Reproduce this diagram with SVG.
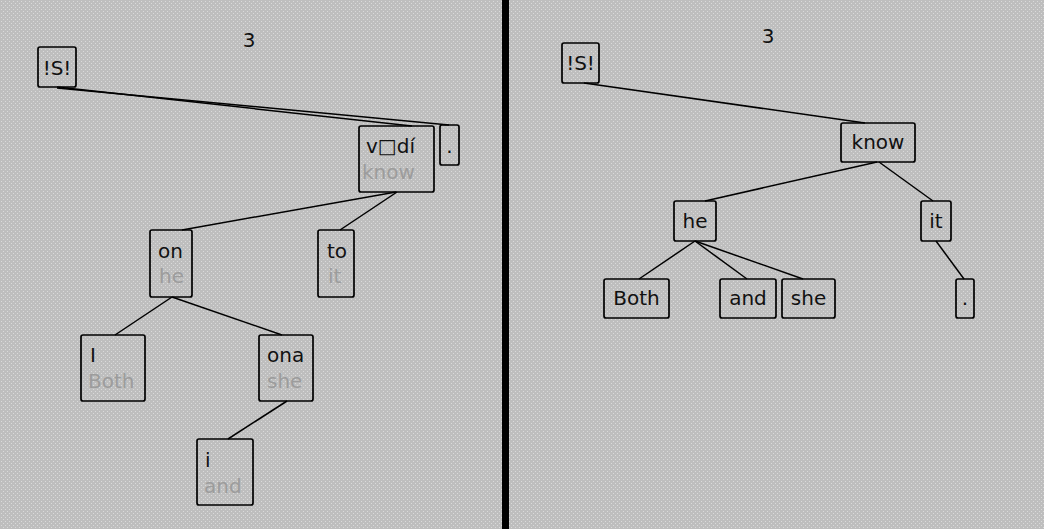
<svg xmlns="http://www.w3.org/2000/svg" width="1044" height="529" viewBox="0 0 1044 529">
  <defs>
    <pattern id="dither" width="4" height="4" patternUnits="userSpaceOnUse">
      <rect width="4" height="4" fill="#bebebe"/>
      <rect x="1" y="1" width="1" height="1" fill="#dadada"/>
      <rect x="3" y="3" width="1" height="1" fill="#dadada"/>
    </pattern>
  </defs>
  <style>
    .box { fill: none; stroke: #000; stroke-width: 1.7; }
    .edge { stroke: #000; stroke-width: 1.5; fill: none; }
    text { font-family: "DejaVu Sans", "Liberation Sans", sans-serif; font-size: 20px; fill: #111; }
    .c { text-anchor: middle; }
    .g { fill: #9c9c9c; }
  </style>

  <!-- panel backgrounds and divider -->
  <rect x="0" y="0" width="1044" height="529" fill="url(#dither)"/>
  <rect x="502" y="0" width="7" height="529" fill="#000"/>

  <!-- left panel: aligned tree -->
  <text class="c" x="249" y="47">3</text>
  <g id="left-edges">
    <line class="edge" x1="57" y1="87" x2="412" y2="126"/>
    <line class="edge" x1="57" y1="88" x2="449" y2="125"/>
    <line class="edge" x1="396" y1="192" x2="182" y2="230"/>
    <line class="edge" x1="397" y1="192" x2="340" y2="230"/>
    <line class="edge" x1="172" y1="297" x2="115" y2="335"/>
    <line class="edge" x1="172" y1="297" x2="282" y2="335"/>
    <line class="edge" x1="287" y1="401" x2="228" y2="439"/>
  </g>
  <g id="l-root">
    <rect class="box" x="38" y="47" width="38" height="40" rx="2"/>
    <text class="c" x="57" y="75">!S!</text>
  </g>
  <g id="l-vedi">
    <rect class="box" x="359" y="126" width="75" height="66" rx="2"/>
    <text x="366" y="153">v□dí</text>
    <text class="g" x="362" y="179">know</text>
  </g>
  <g id="l-dot">
    <rect class="box" x="440" y="125" width="19" height="40" rx="2"/>
    <text class="c" x="449.5" y="153">.</text>
  </g>
  <g id="l-on">
    <rect class="box" x="150" y="230" width="42" height="67" rx="2"/>
    <text x="158" y="258">on</text>
    <text class="g" x="159" y="283">he</text>
  </g>
  <g id="l-to">
    <rect class="box" x="318" y="230" width="36" height="67" rx="2"/>
    <text x="327" y="258">to</text>
    <text class="g" x="328" y="283">it</text>
  </g>
  <g id="l-I">
    <rect class="box" x="81" y="335" width="64" height="66" rx="2"/>
    <text x="90" y="362">I</text>
    <text class="g" x="88" y="388">Both</text>
  </g>
  <g id="l-ona">
    <rect class="box" x="259" y="335" width="54" height="66" rx="2"/>
    <text x="267" y="362">ona</text>
    <text class="g" x="267" y="388">she</text>
  </g>
  <g id="l-i">
    <rect class="box" x="197" y="439" width="56" height="66" rx="2"/>
    <text x="205" y="467">i</text>
    <text class="g" x="204" y="493">and</text>
  </g>

  <!-- right panel: dependency tree -->
  <text class="c" x="768" y="43">3</text>
  <g id="right-edges">
    <line class="edge" x1="584" y1="83" x2="865" y2="123"/>
    <line class="edge" x1="877" y1="162" x2="705" y2="201"/>
    <line class="edge" x1="879" y1="162" x2="933" y2="201"/>
    <line class="edge" x1="695" y1="241" x2="639" y2="279"/>
    <line class="edge" x1="695" y1="241" x2="747" y2="279"/>
    <line class="edge" x1="695" y1="241" x2="803" y2="279"/>
    <line class="edge" x1="936" y1="241" x2="964" y2="279"/>
  </g>
  <g id="r-root">
    <rect class="box" x="562" y="43" width="37" height="40" rx="2"/>
    <text class="c" x="580.5" y="70">!S!</text>
  </g>
  <g id="r-know">
    <rect class="box" x="841" y="123" width="74" height="39" rx="2"/>
    <text class="c" x="878" y="149">know</text>
  </g>
  <g id="r-he">
    <rect class="box" x="674" y="201" width="42" height="40" rx="2"/>
    <text class="c" x="695" y="228">he</text>
  </g>
  <g id="r-it">
    <rect class="box" x="921" y="201" width="30" height="40" rx="2"/>
    <text class="c" x="936" y="228">it</text>
  </g>
  <g id="r-both">
    <rect class="box" x="604" y="279" width="65" height="39" rx="2"/>
    <text class="c" x="636.5" y="305">Both</text>
  </g>
  <g id="r-and">
    <rect class="box" x="720" y="279" width="56" height="39" rx="2"/>
    <text class="c" x="748" y="305">and</text>
  </g>
  <g id="r-she">
    <rect class="box" x="782" y="279" width="53" height="39" rx="2"/>
    <text class="c" x="808.5" y="305">she</text>
  </g>
  <g id="r-dot">
    <rect class="box" x="956" y="279" width="18" height="39" rx="2"/>
    <text class="c" x="965" y="305">.</text>
  </g>
</svg>
